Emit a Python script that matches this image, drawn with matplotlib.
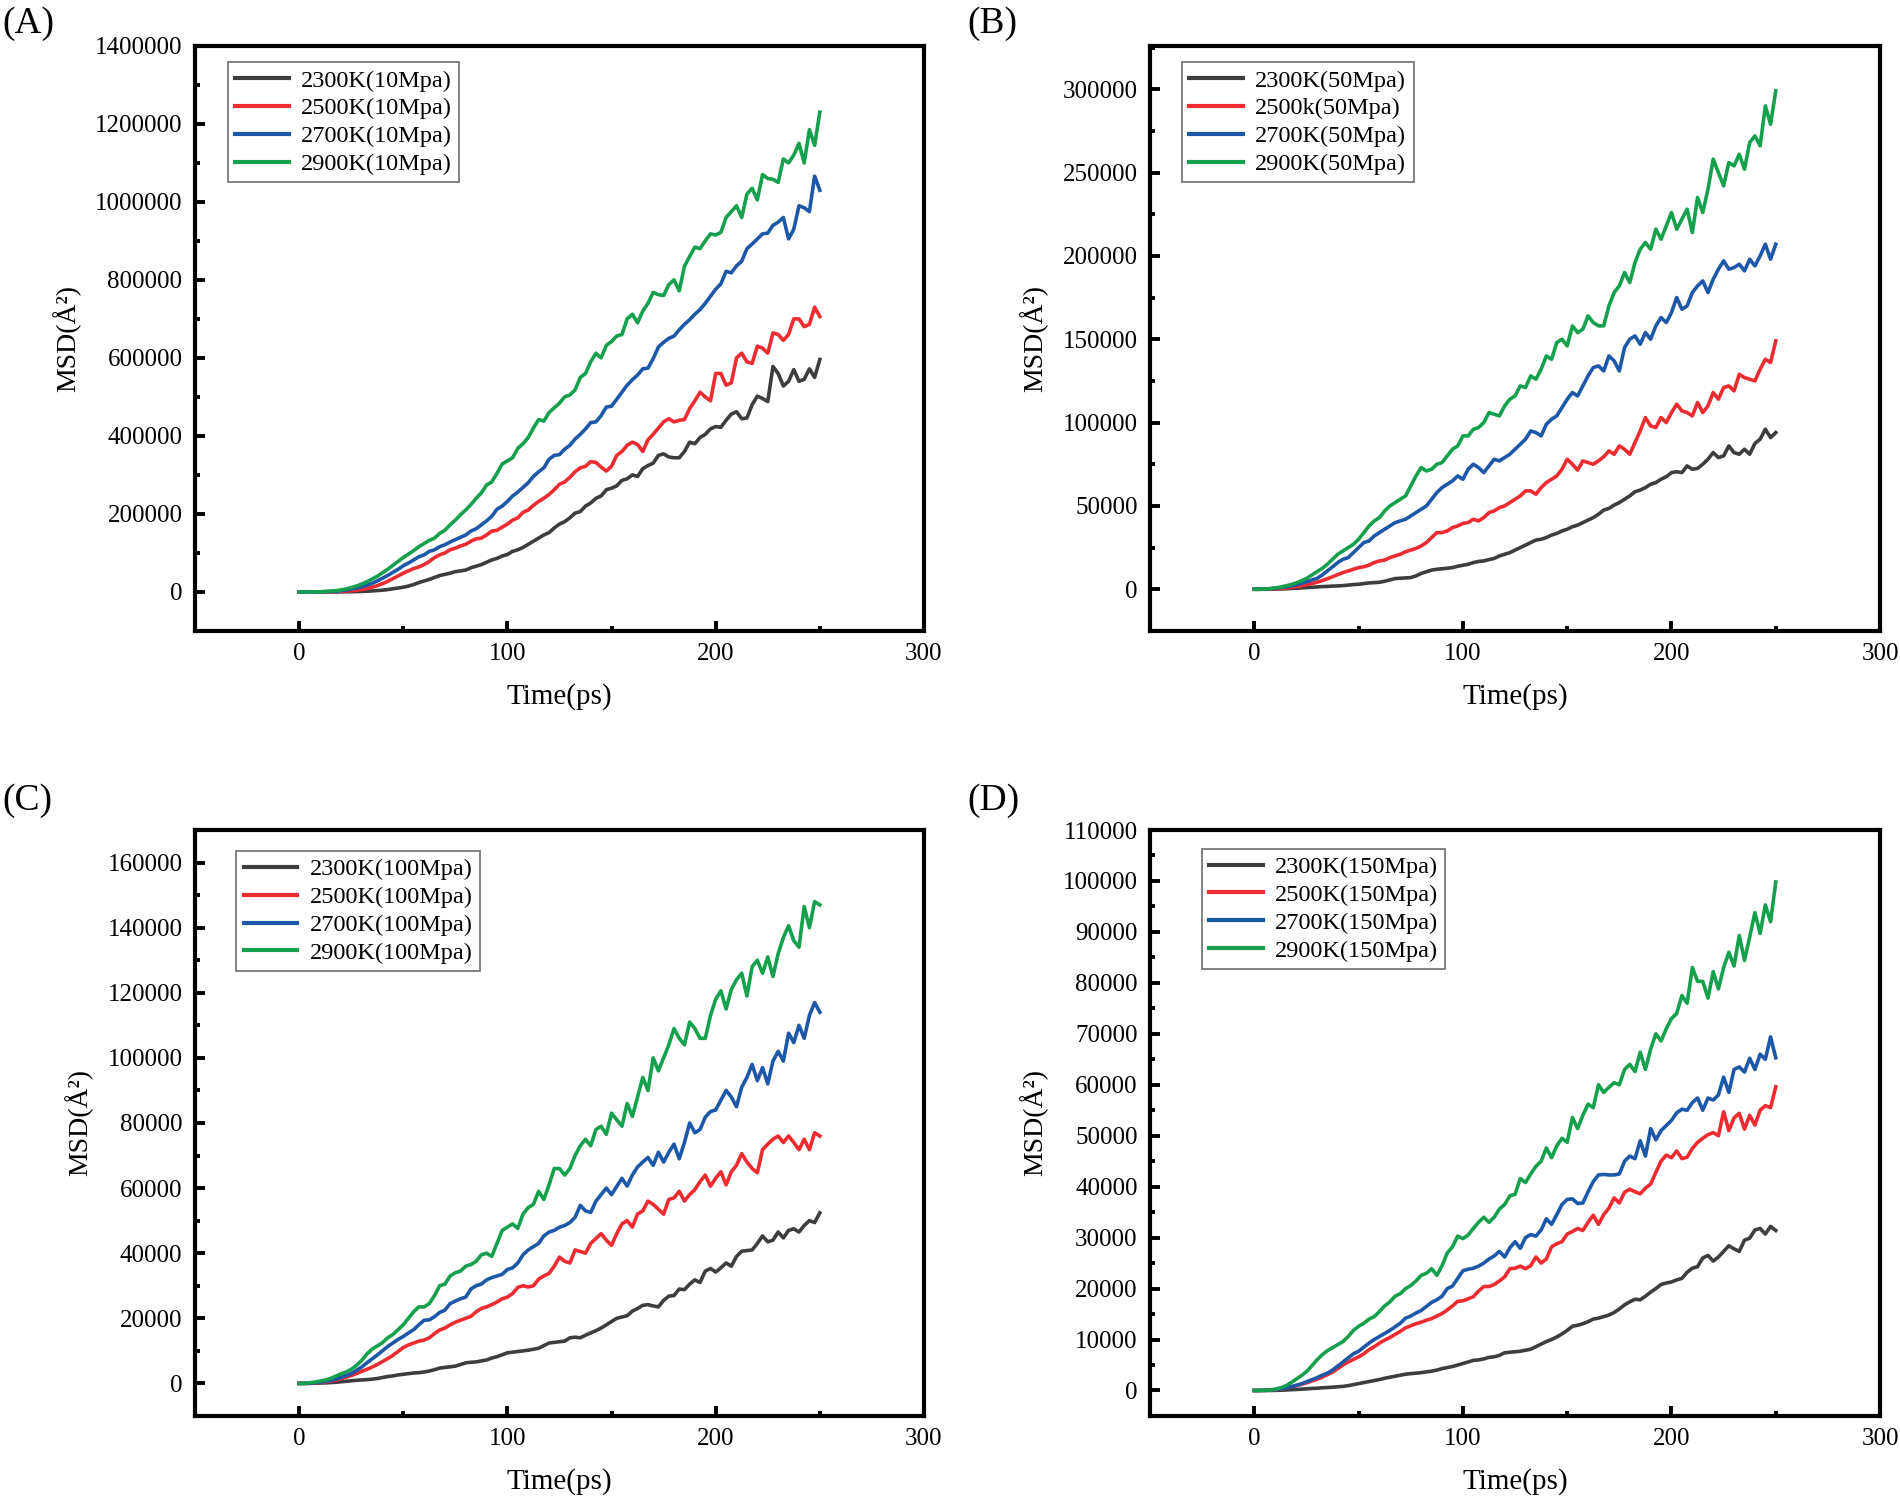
import numpy as np
import matplotlib
matplotlib.use("Agg")
import matplotlib.pyplot as plt
from matplotlib.ticker import MultipleLocator, FormatStrFormatter

plt.rcParams['font.family'] = ['Liberation Serif', 'DejaVu Serif']

# tiempo (ps), paso de 2.5 ps
time = np.arange(0, 250.1, 2.5)

temps = ["2300K", "2500K", "2700K", "2900K"]
colors = ["#3d3d3d", "#ee2b30", "#1d58a8", "#14a04c"]

# (A) 10 Mpa, MSD en miles de Å^2
a_2300 = [0, 0, 0, 0, 0, 0, 0, 0, 0.2, 0.4, 0.6, 0.9, 1.3, 1.8, 2.5, 3.5, 4.5, 6, 8, 10,
          12, 15, 19, 24, 28, 32, 37, 42, 45, 48, 52, 54, 56, 62, 66, 70, 76, 82, 86, 92,
          96, 104, 108, 114, 122, 130, 138, 146, 152, 164, 174, 180, 190, 202, 206, 220, 228, 240, 246, 262,
          266, 272, 286, 290, 300, 296, 316, 324, 330, 350, 354, 346, 344, 344, 360, 384, 380, 396, 404, 418,
          424, 422, 440, 456, 462, 444, 446, 480, 502, 496, 488, 578, 560, 528, 540, 570, 540, 545, 572, 550,
          596]
a_2500 = [0, 0, 0, 0, 0.2, 0.4, 0.7, 1, 1.5, 2.2, 3, 4.2, 6, 8.5, 12, 16, 21, 27, 34, 41,
          48, 54, 60, 64, 70, 78, 88, 95, 100, 108, 112, 118, 122, 130, 136, 138, 146, 156, 158, 166,
          174, 184, 190, 204, 210, 222, 232, 240, 250, 262, 276, 282, 294, 308, 318, 322, 334, 332, 320, 310,
          322, 350, 360, 376, 384, 378, 360, 390, 404, 420, 436, 444, 436, 440, 442, 470, 490, 512, 500, 490,
          560, 560, 530, 536, 600, 612, 590, 586, 630, 625, 612, 664, 660, 645, 660, 700, 700, 680, 686, 730,
          706]
a_2700 = [0, 0, 0, 0, 0.3, 0.6, 1, 2, 3, 5, 7, 10, 13, 17, 22, 28, 35, 42, 50, 58,
          67, 74, 82, 90, 95, 104, 108, 116, 121, 128, 134, 140, 146, 156, 162, 172, 182, 194, 212, 220,
          232, 246, 256, 268, 280, 296, 308, 318, 340, 350, 352, 366, 376, 392, 404, 418, 434, 436, 452, 474,
          476, 494, 512, 530, 544, 556, 572, 574, 598, 628, 640, 650, 656, 672, 686, 698, 712, 724, 740, 758,
          776, 790, 822, 818, 836, 848, 880, 892, 905, 918, 920, 940, 948, 960, 905, 930, 990, 985, 975, 1066,
          1030]
a_2900 = [0, 0, 0, 0.2, 0.5, 1, 2, 3.2, 5, 7.5, 11, 15, 20, 26, 33, 40, 49, 58, 68, 78,
          88, 97, 106, 116, 124, 132, 138, 150, 158, 172, 184, 198, 210, 224, 240, 254, 274, 282, 304, 328,
          336, 344, 368, 380, 396, 420, 442, 438, 460, 472, 484, 500, 505, 518, 550, 560, 590, 612, 600, 632,
          642, 656, 660, 700, 712, 690, 720, 740, 768, 762, 760, 788, 800, 772, 835, 860, 884, 880, 900, 918,
          915, 922, 960, 975, 990, 960, 1020, 1035, 1005, 1070, 1060, 1058, 1050, 1110, 1100, 1120, 1150, 1100, 1185, 1145,
          1230]

# (B) 50 Mpa
b_2300 = [0, 0, 0, 0, 0.1, 0.2, 0.3, 0.5, 0.6, 0.8, 1, 1.2, 1.4, 1.6, 1.7, 1.9, 2, 2.2, 2.5, 2.8,
          3, 3.4, 3.8, 4, 4.2, 4.8, 5.6, 6.4, 6.6, 6.8, 7, 8, 9.5, 10.5, 11.5, 12, 12.3, 12.6, 13, 13.8,
          14.4, 15, 16, 16.7, 17, 17.8, 18.5, 20, 21, 22, 23.5, 25, 26.5, 28, 29.5, 30, 31, 32.5, 33.5, 35,
          36, 37.5, 38.5, 40, 41.5, 43, 45, 47.5, 48.5, 50.5, 52, 54, 56, 58.5, 59.5, 61, 63, 64, 66, 67.5,
          70, 70.5, 70, 74, 72, 72.5, 75, 78, 82, 79, 80, 86, 82, 81, 84, 81, 87.5, 90, 96, 91,
          94]
b_2500 = [0, 0, 0, 0.1, 0.3, 0.5, 0.8, 1.1, 1.5, 2, 2.7, 3.4, 4.2, 5.2, 6.3, 7.5, 8.8, 10, 11, 12,
          13, 13.5, 14.5, 16, 17, 17.5, 19, 20, 21, 22.5, 23.5, 24.5, 26, 28, 31, 34, 34, 35, 37, 38,
          39.5, 40, 42, 41, 43, 46, 47, 49, 50, 52, 54, 56, 59, 59, 57, 61, 64, 66, 68, 72,
          78, 75, 71.5, 77, 76, 75, 77, 79.5, 83, 81, 86, 84, 81, 88, 95, 103, 98, 97, 103, 100,
          106, 111, 107, 106, 104, 112, 106, 110, 118, 114, 121, 122, 119, 129, 127, 126, 125, 132, 138, 136,
          149]
b_2700 = [0, 0, 0.1, 0.3, 0.6, 1, 1.5, 2, 2.7, 3.5, 4.5, 5.5, 6.5, 8.5, 11, 13.5, 16, 18, 19, 22,
          25, 28, 29, 32, 34, 36, 38, 40, 41, 42, 44, 46, 48, 50, 54, 58, 61, 63, 65, 68,
          66, 72, 75, 73, 70, 74, 78, 77, 79, 81, 84, 87, 90, 95, 94, 92, 99, 102, 104, 109,
          114, 118, 116, 122, 128, 133, 134, 131, 140, 137, 131, 145, 150, 152, 147, 154, 150, 158, 163, 160,
          166, 175, 168, 170, 178, 182, 185, 178, 186, 192, 197, 192, 193, 195, 191, 198, 194, 200, 207, 198,
          207]
b_2900 = [0, 0, 0.2, 0.4, 0.8, 1.3, 2, 2.8, 3.8, 5, 6.5, 8.5, 10.5, 12.5, 15, 18, 21, 23, 25, 27,
          30, 34, 38, 41, 43, 47, 50, 52, 54, 56, 62, 68, 73, 71, 72, 75, 76, 80, 84, 86,
          92, 92, 96, 97, 100, 106, 105, 104, 110, 114, 116, 122, 121, 128, 126, 132, 140, 138, 148, 150,
          146, 158, 154, 156, 164, 160, 158, 158, 170, 178, 182, 190, 184, 196, 204, 208, 204, 216, 210, 218,
          226, 216, 222, 228, 214, 235, 226, 240, 258, 250, 242, 256, 254, 261, 252, 268, 272, 266, 290, 279,
          299]

# (C) 100 Mpa
c_2300 = [0, 0, 0, 0.05, 0.1, 0.15, 0.25, 0.35, 0.5, 0.65, 0.8, 0.95, 1.05, 1.15, 1.3, 1.5, 1.8, 2.1, 2.3, 2.6,
          2.8, 3, 3.2, 3.3, 3.5, 3.8, 4.2, 4.7, 4.9, 5.1, 5.3, 5.8, 6.3, 6.5, 6.6, 6.9, 7.2, 7.8, 8.2, 8.8,
          9.4, 9.6, 9.8, 10, 10.2, 10.5, 10.8, 11.6, 12.4, 12.6, 12.8, 13, 14, 14.2, 14, 14.8, 15.5, 16.2, 17, 18,
          19, 20, 20.4, 20.8, 22.2, 23, 24, 24.2, 23.8, 23.5, 25.5, 26.8, 27, 29, 28.8, 30.5, 31.8, 31, 34.5, 35.3,
          34.2, 35.5, 37, 36, 39, 40.6, 40.8, 41, 43, 45.3, 43.5, 44, 46.5, 44.7, 47, 47.5, 46.5, 48.5, 50, 49.4,
          52.4]
c_2500 = [0, 0, 0.05, 0.15, 0.3, 0.45, 0.65, 1, 1.4, 1.9, 2.4, 3, 3.7, 4.3, 5, 5.8, 6.7, 7.6, 8.6, 9.8,
          11, 11.8, 12.4, 13, 13.3, 14, 15.3, 16.4, 17, 18, 18.8, 19.4, 20, 20.6, 22, 23, 23.5, 24.2, 25, 26,
          26.5, 27.6, 29.5, 30, 29.6, 30, 32, 33, 33.8, 36, 38.8, 37.5, 37, 41, 40.5, 40, 43, 44.5, 46, 44,
          42.4, 46, 49, 50, 48, 52, 53, 56, 55, 53.5, 52, 56.5, 57, 59, 56, 58, 59.5, 62, 64, 60.6,
          63, 65, 61, 65, 67, 70.6, 68, 66, 64.7, 71.8, 73.5, 75, 76, 74, 76, 74, 71.8, 75, 71.8, 77,
          76]
c_2700 = [0, 0, 0.1, 0.2, 0.4, 0.6, 0.9, 1.3, 1.8, 2.4, 3, 4, 5, 6.3, 7.5, 8.7, 10, 11.3, 12.4, 13.5,
          14.4, 15.5, 16.5, 18, 19.4, 19.5, 20.5, 21.8, 22.5, 24.5, 25.3, 26, 26.5, 29, 30, 30.5, 31.8, 32.5, 33, 33.5,
          35, 35.5, 37, 39.5, 41, 42, 43, 45.3, 46.5, 47, 48, 48.5, 49.4, 51, 54.7, 53, 52.5, 56, 58, 60,
          58, 60.5, 63, 60.6, 64, 66.5, 68, 69.4, 67, 71, 68, 71, 73.5, 69, 74, 80, 77, 78, 81.8, 83.5,
          84, 87, 90, 88, 85, 91, 94, 98, 93, 97, 92, 99, 102, 99, 107.6, 104.7, 110, 106, 113, 117,
          114]
c_2900 = [0, 0, 0.2, 0.4, 0.7, 1, 1.5, 2.2, 2.9, 3.5, 4.3, 5.5, 7, 9, 10.5, 11.5, 12.5, 14, 15, 16.5,
          18, 20, 22, 23.5, 23.5, 24.5, 27, 30, 30.5, 33, 34, 34.5, 36, 36.5, 37.5, 39.5, 40, 39, 43, 47,
          48, 49, 47.6, 52, 54, 55, 59, 56.5, 61, 66, 66, 64, 66, 70, 73, 75, 73, 78, 79, 76.5,
          83, 81, 79, 86, 82, 88, 94, 90, 100, 96, 100, 104, 109, 106, 104, 111, 109, 106, 106, 113,
          118, 120.6, 115, 121, 124, 126, 119, 128, 130, 126, 131, 125, 132, 137, 140.6, 136, 134, 146.5, 140, 148,
          147]

# (D) 150 Mpa
d_2300 = [0, 0, 0, 0, 0.02, 0.05, 0.1, 0.15, 0.2, 0.26, 0.32, 0.4, 0.45, 0.52, 0.58, 0.65, 0.72, 0.8, 0.95, 1.15,
          1.35, 1.55, 1.75, 1.95, 2.15, 2.4, 2.6, 2.8, 3, 3.2, 3.3, 3.4, 3.5, 3.65, 3.8, 4, 4.3, 4.5, 4.7, 5,
          5.3, 5.6, 5.9, 6, 6.2, 6.5, 6.6, 6.9, 7.4, 7.5, 7.6, 7.7, 7.9, 8.1, 8.6, 9.1, 9.6, 10, 10.5, 11.1,
          11.8, 12.6, 12.8, 13.1, 13.5, 14, 14.2, 14.5, 14.8, 15.3, 16, 16.8, 17.4, 17.9, 17.8, 18.5, 19.3, 20, 20.8, 21.1,
          21.3, 21.7, 22, 23.2, 24, 24.3, 26, 26.5, 25.4, 26.2, 27.3, 28.4, 27.8, 27.3, 29.5, 29.9, 31.5, 31.8, 30.7, 32.2,
          31.4]
d_2500 = [0, 0, 0.03, 0.08, 0.16, 0.3, 0.5, 0.72, 0.95, 1.2, 1.5, 1.85, 2.2, 2.6, 3.1, 3.6, 4.3, 5, 5.6, 6.1,
          6.6, 7.2, 8, 8.6, 9.3, 9.9, 10.4, 11, 11.6, 12.3, 12.7, 13.1, 13.4, 13.8, 14.1, 14.6, 15.1, 15.8, 16.6, 17.5,
          17.6, 18, 18.4, 19.5, 20.4, 20.4, 20.8, 21.5, 22.3, 23.9, 24, 24.4, 23.9, 24.5, 26.2, 25, 25.8, 28.2, 28.8, 29.2,
          30.7, 31.2, 31.8, 31.4, 33, 34.4, 32.6, 34.5, 35.8, 37.8, 36.8, 38.9, 39.5, 39, 38.6, 39.7, 40.5, 42.8, 45, 46.2,
          45.7, 47, 45.5, 45.8, 47.5, 48.7, 49.5, 50.2, 50.6, 50, 54.7, 51, 53.5, 54.4, 51.3, 54, 52.1, 55, 55.9, 55.5,
          59.6]
d_2700 = [0, 0, 0.03, 0.08, 0.16, 0.3, 0.5, 0.72, 1, 1.3, 1.7, 2.1, 2.5, 3, 3.4, 4, 4.8, 5.6, 6.4, 7.2,
          7.7, 8.5, 9.3, 10, 10.6, 11.2, 11.8, 12.5, 13.2, 14.2, 14.6, 15.2, 15.7, 16.5, 17.3, 17.8, 18.5, 20, 20.5, 22,
          23.5, 23.8, 24, 24.4, 25, 25.8, 26.4, 27.3, 26.2, 28, 29.2, 27.9, 30, 30.6, 30.3, 31.5, 33.7, 32.6, 34.5, 36.5,
          37.5, 37.6, 36.7, 36.8, 39, 41, 42.3, 42.4, 42.3, 42.3, 42.5, 45, 46, 45.5, 49, 46, 51.4, 49.2, 51, 52,
          53, 54.5, 55.2, 55, 56.5, 57.4, 55, 57.4, 57, 58, 61.5, 58.5, 63, 63.5, 62.5, 65.2, 63, 66, 65, 69.4,
          65.3]
d_2900 = [0, 0, 0.05, 0.1, 0.25, 0.5, 0.9, 1.5, 2.2, 2.9, 3.7, 4.8, 6, 7, 7.8, 8.4, 9, 9.6, 10.6, 11.8,
          12.6, 13.2, 14, 14.5, 15.5, 16.6, 17.4, 18.5, 19, 20, 20.6, 21.5, 22.6, 23, 23.9, 22.6, 24.5, 27, 28.2, 30.3,
          29.8, 30.5, 31.8, 33, 34, 33, 34, 35.6, 36.5, 38.2, 38.5, 41.6, 40.8, 42.5, 44, 45, 47.6, 45.7, 48, 49.5,
          48.7, 53.6, 51.4, 54, 56.2, 55.5, 60, 58.5, 59.5, 60.4, 60, 63, 64, 62.6, 66.4, 63, 67, 70, 68.6, 71,
          73, 74, 77.5, 76, 83, 80.3, 80.3, 77, 82.2, 78.8, 83, 86, 83.3, 89.3, 84.4, 89, 93.8, 89.7, 95.3, 92,
          99.8]

paneles = [
    ("(A)", "10Mpa", [a_2300, a_2500, a_2700, a_2900], (-100000, 1400001), 200000, 100000),
    ("(B)", "50Mpa", [b_2300, b_2500, b_2700, b_2900], (-25000, 326000), 50000, 25000),
    ("(C)", "100Mpa", [c_2300, c_2500, c_2700, c_2900], (-10000, 170000), 20000, 10000),
    ("(D)", "150Mpa", [d_2300, d_2500, d_2700, d_2900], (-5000, 110001), 10000, 5000),
]

# posiciones de los ejes (fracción de figura)
rects = [
    [0.1026, 0.5791, 0.3837, 0.3903],
    [0.6053, 0.5791, 0.3842, 0.3903],
    [0.1026, 0.0554, 0.3837, 0.3909],
    [0.6053, 0.0554, 0.3842, 0.3909],
]
legend_pos = [(0.045, 0.972), (0.044, 0.972), (0.057, 0.964), (0.071, 0.968)]
label_pos = [(0.001, 0.984), (0.509, 0.984), (0.001, 0.466), (0.509, 0.466)]

fig = plt.figure(figsize=(19, 14.99), dpi=100)

for i, (tag, pres, series, ylim, major, minor) in enumerate(paneles):
    ax = fig.add_axes(rects[i])
    for j, vals in enumerate(series):
        name = temps[j] + "(" + pres + ")"
        if tag == "(B)" and j == 1:
            name = "2500k(" + pres + ")"
        ax.plot(time, np.array(vals) * 1000, color=colors[j], lw=2.6, label=name)

    ax.set_xlim(-50, 300)
    ax.set_ylim(*ylim)
    ax.xaxis.set_major_locator(MultipleLocator(100))
    ax.xaxis.set_minor_locator(MultipleLocator(50))
    ax.yaxis.set_major_locator(MultipleLocator(major))
    ax.yaxis.set_minor_locator(MultipleLocator(minor))
    ax.yaxis.set_major_formatter(FormatStrFormatter('%d'))
    ax.tick_params(which='both', direction='in', top=False, right=False, width=2.8)
    ax.tick_params(which='major', length=7, labelsize=18, pad=9)
    ax.tick_params(which='minor', length=3.5)
    for s in ax.spines.values():
        s.set_linewidth(3)

    ax.set_xlabel("Time(ps)", fontsize=21, labelpad=13)
    ax.set_ylabel("MSD(Å²)", fontsize=20, labelpad=10)

    leg = ax.legend(loc='upper left', bbox_to_anchor=legend_pos[i], borderaxespad=0,
                    fontsize=17.5, frameon=True, fancybox=False, edgecolor='#555555',
                    handlelength=2.2, handletextpad=0.5, labelspacing=0.24,
                    borderpad=0.3)
    leg.get_frame().set_linewidth(1.3)
    for h in leg.get_lines():
        h.set_linewidth(3)

    fig.text(label_pos[i][0], label_pos[i][1], tag, fontsize=27, va='center', ha='left')

fig.savefig("out.png", dpi=100)
